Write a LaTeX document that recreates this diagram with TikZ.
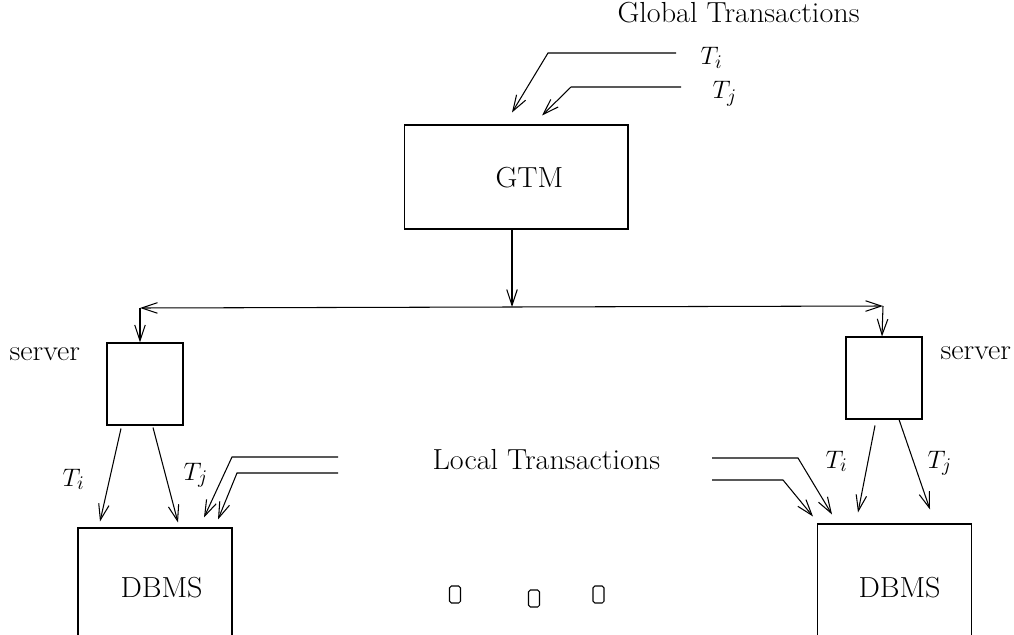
\documentclass[tikz,border=0pt]{standalone}
\usetikzlibrary{positioning,calc,arrows.meta}

\tikzset{
  box/.style={draw, rectangle, inner sep=0pt},
  flow/.style={-{Straight Barb[length=9pt,width=6pt]}},
  both/.style={{Straight Barb[length=9pt,width=6pt]}-{Straight Barb[length=9pt,width=6pt]}},
  lbl/.style={anchor=base west, inner sep=0pt},
  wide/.style={lbl, font=\fontsize{16.5}{19}\selectfont},
}
% slightly stretched words, as in the scanned figure
\newcommand{\stretchtxt}[1]{\scalebox{1.04}[1]{#1}}

\begin{document}
\begin{tikzpicture}[x=0.02cm, y=-0.02cm, line width=0.6pt,
                    font=\fontsize{15.6}{18}\selectfont]

% --- PARAMETERS ---
\def\srvW{1.52cm}      % server box width
\def\srvH{1.64cm}      % server box height
\def\dbW{3.08cm}       % DBMS box width
\def\dbH{2.8cm}        % DBMS box height (runs off the page)

\useasboundingbox (0,0) rectangle (1014,635);

% --- BOXES ---
\node[box, minimum width=4.48cm, minimum height=2.08cm] (gtm) at (516,177) {};
\node[box, minimum width=\srvW, minimum height=\srvH] (srvL) at (145,384) {};
\node[box, minimum width=\srvW, minimum height=\srvH] (srvR) at (884,378) {};
\node[box, minimum width=\dbW, minimum height=\dbH] (dbL) at (155,598) {};
\node[box, minimum width=\dbW, minimum height=\dbH] (dbR) at (894.5,594) {};

% --- TEXTS ---
\node[wide] (gtmtxt)  at (495,187) {\stretchtxt{GTM}};
\node[wide] (glob)    at (617,23)  {\stretchtxt{Global Transactions}};
\node[lbl]  (gti)     at (700,65)  {$T_i$};
\node[lbl]  (gtj)     at (712,99)  {$T_j$};
\node[wide] (srvLtxt) at (9,360)   {\stretchtxt{server}};
\node[wide] (srvRtxt) at (940,359) {\stretchtxt{server}};
\node[wide] (dbLtxt)  at (120,597) {\stretchtxt{DBMS}};
\node[wide] (dbRtxt)  at (858,597) {\stretchtxt{DBMS}};
\node[wide] (ltrans)  at (432,469) {\stretchtxt{Local Transactions}};
\node[lbl]  (lti)     at (62,486)  {$T_i$};
\node[lbl]  (ltj)     at (183,480) {$T_j$};
\node[lbl]  (rti)     at (825,468) {$T_i$};
\node[lbl]  (rtj)     at (927,468) {$T_j$};

% --- FREE ENDS ---
\coordinate (giS)  at (676,53);
\coordinate (gjS)  at (681,87);
\coordinate (busL) at (140,308);
\coordinate (busM) at (512,307);
\coordinate (busR) at (883,306);
\coordinate (luS)  at (338,457);
\coordinate (llS)  at (338,473);
\coordinate (ruS)  at (712,458);
\coordinate (rlS)  at (712,480);

% --- GLOBAL TRANSACTIONS ---
\draw[flow] (giS) -- (548,53) -- ($(gtm.north)+(-4,-12)$);
\draw[flow] (gjS) -- (571,87) -- ($(gtm.north)+(26,-9)$);

% --- GTM TO SERVERS ---
\draw[flow] ($(gtm.south)+(-4,0)$) -- (busM);
\draw[both] (busL) -- (busR);
\draw[flow] (busL) -- ($(srvL.north)+(-5,0)$);
\draw[flow] (busR) -- ($(srvR.north)+(-2,0)$);

% --- SERVERS TO DBMS ---
\draw[flow] ($(srvL.south)+(-24,3)$) -- ($(dbL.north)+(-55,-6)$);
\draw[flow] ($(srvL.south)+(8,2)$)   -- ($(dbL.north)+(23,-5)$);
\draw[flow] ($(srvR.south)+(-9,6)$)  -- ($(dbR.north)+(-36.5,-11)$);
\draw[flow] ($(srvR.south)+(15,0)$)  -- ($(dbR.north)+(35.5,-14)$);

% --- LOCAL TRANSACTIONS ---
\draw[flow] (luS) -- (232,457) -- ($(dbL.north)+(49,-10)$);
\draw[flow] (llS) -- (237,473) -- ($(dbL.north)+(63,-8)$);
\draw[flow] (ruS) -- (798,458) -- ($(dbR.north)+(-62.5,-9)$);
\draw[flow] (rlS) -- (783,480) -- ($(dbR.north)+(-81.5,-7)$);

% --- SMALL MARKS ---
\foreach \i/\xc/\yc in {1/455/594.5, 2/534/598.5, 3/598.5/594.5}
  \node[box, rounded corners=1pt, minimum width=0.22cm, minimum height=0.34cm]
    (mark\i) at (\xc,\yc) {};

\end{tikzpicture}
\end{document}
